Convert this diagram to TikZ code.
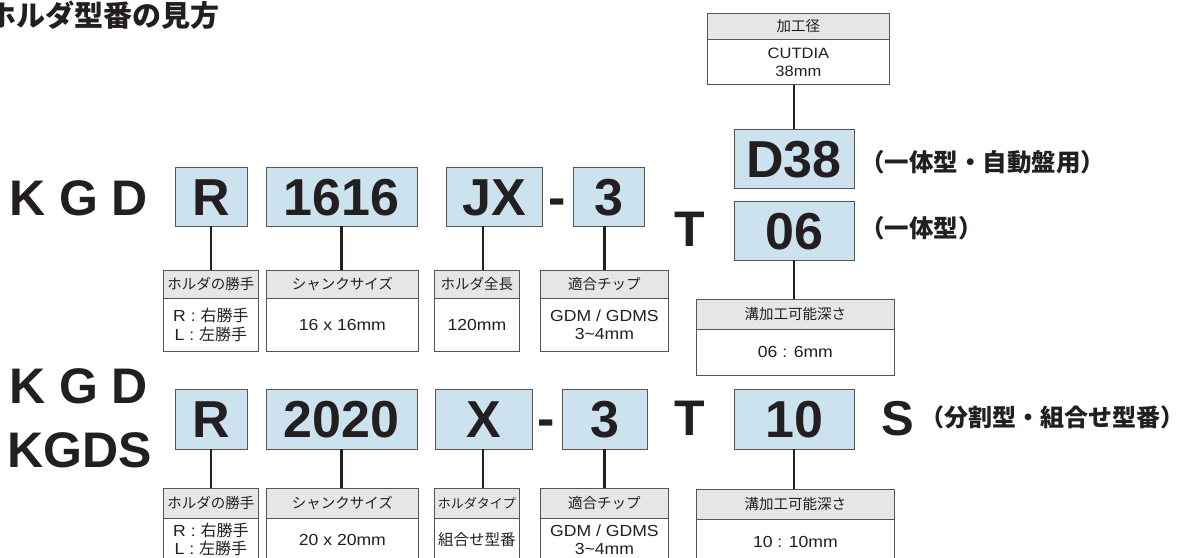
\documentclass[tikz,border=0pt]{standalone}
\usepackage{fontspec}
\setmainfont{Liberation Sans}
\newfontfamily\jp{Noto Sans CJK JP}
\newfontfamily\lat{Liberation Sans}[FakeStretch=1.1]
\definecolor{codeblue}{RGB}{204,227,239}
\definecolor{hdrgray}{RGB}{230,230,231}
\definecolor{ink}{RGB}{35,31,32}
\definecolor{edge}{RGB}{85,85,85}
\tikzset{
 codebox/.style={draw=edge, fill=codeblue, line width=0.9pt, inner sep=0pt, text height=37pt, text depth=0pt, font=\fontsize{52}{52}\selectfont\bfseries, text=ink},
 big/.style={inner sep=0pt, font=\fontsize{52}{52}\selectfont\bfseries, text=ink, anchor=base},
 hdr/.style={draw=edge, fill=hdrgray, line width=0.8pt, inner sep=0pt, anchor=north west, font=\jp\fontsize{14.5}{16}\selectfont, text=ink},
 bdy/.style={draw=edge, fill=white, line width=0.8pt, inner sep=0pt, anchor=north west, align=center, text=ink},
 conn/.style={line width=2.4pt, draw=ink},
 note/.style={inner sep=0pt, anchor=west, font=\jp\bfseries\fontsize{24.5}{26}\selectfont, text=ink},
}
\newcommand\cbox[6]{\node[codebox, minimum width={(#3-#2)*1pt}, minimum height={(#5-#4)*1pt}] (#1) at ({(#2+#3)/2},{(#4+#5)/2}) {#6};}
\newcommand\ibox[9]{%
 \node[hdr, minimum width={(#3-#2)*1pt}, minimum height={(#5-#4)*1pt}] (#1h) at (#2,#4) {#8};
 \node[bdy, minimum width={(#3-#2)*1pt}, minimum height={(#6-#5)*1pt}, font={#7}] (#1b) at (#2,#5) {#9};}
\begin{document}
\begin{tikzpicture}[x=1pt,y=-1pt]
\useasboundingbox (0,0) rectangle (1182,557);
\clip (0,0) rectangle (1182,557);
\fill[white] (0,0) rectangle (1182,557);

\node[anchor=west, inner sep=0pt, text=ink, font=\jp\bfseries\fontsize{29}{31}\selectfont] (title) at (-13,15) {ホルダ型番の見方};

% top box
\ibox{tb}{707}{889}{13}{39}{84}{\lat\fontsize{15}{18}\selectfont}{加工径}{CUTDIA\\38mm}

% row 1 codes
\node[big, anchor=base west, font=\fontsize{50}{50}\selectfont\bfseries] (k1) at (9,215) {K G D};
\cbox{r1}{175}{247}{167}{226}{R}
\cbox{s1}{266}{417}{167}{226}{1616}
\cbox{l1}{446}{542}{167}{226}{JX}
\node[big] (hy1) at (557.5,215) {-};
\cbox{c1}{573}{644}{167}{226}{3}
\node[big, font=\fontsize{50}{50}\selectfont\bfseries] (t1) at (689.5,246) {T};
\cbox{d1}{734}{854}{129}{188}{D38}
\cbox{g1}{734}{854}{201}{260}{06}
\node[note] (n1) at (860,162) {（一体型・自動盤用）};
\node[note] (n2) at (860,228) {（一体型）};

% row 1 info
\ibox{ia}{163}{258}{270}{298}{351}{\lat\fontsize{16}{18.5}\selectfont}{ホルダの勝手}{R : {\jp 右勝手}\\L : {\jp 左勝手}}
\ibox{ib}{266}{418}{270}{298}{351}{\lat\fontsize{16}{18.5}\selectfont}{シャンクサイズ}{16 x 16mm}
\ibox{ic}{434}{519}{270}{298}{351}{\lat\fontsize{16}{18.5}\selectfont}{ホルダ全長}{120mm}
\ibox{id}{540}{668}{270}{298}{351}{\lat\fontsize{16}{18.5}\selectfont}{適合チップ}{GDM / GDMS\\3\textasciitilde4mm}
\ibox{ie}{696}{894}{299}{329}{375}{\lat\fontsize{16}{18.5}\selectfont}{溝加工可能深さ}{06 : 6mm}

\coordinate (x3) at (483,0);
\draw[conn] (tbb.south -| d1.north) -- (d1.north);
\draw[conn] (r1.south) -- (r1.south |- iah.north);
\draw[conn] (s1.south) -- (s1.south |- ibh.north);
\draw[conn] (l1.south -| x3) -- (ich.north -| x3);
\draw[conn] (c1.south -| idh.north) -- (idh.north);
\draw[conn] (g1.south) -- (g1.south |- ieh.north);

% row 2 codes
\node[big, anchor=base west, font=\fontsize{50}{50}\selectfont\bfseries] (k2) at (9,403) {K G D};
\node[big, anchor=base west, font=\fontsize{50}{50}\selectfont\bfseries] (k3) at (7,467) {KGDS};
\cbox{r2}{175}{247}{389}{449}{R}
\cbox{s2}{266}{417}{389}{449}{2020}
\cbox{l2}{435}{532}{389}{449}{X}
\node[big] (hy2) at (546.5,436) {-};
\cbox{c2}{562}{647}{389}{449}{3}
\node[big, font=\fontsize{50}{50}\selectfont\bfseries] (t2) at (689.5,435) {T};
\cbox{g2}{734}{854}{389}{449}{10}
\node[big, font=\fontsize{49}{49}\selectfont\bfseries] (sfx) at (898,435) {S};
\node[note, font=\jp\bfseries\fontsize{24}{26}\selectfont] (n3) at (920,417) {（分割型・組合せ型番）};

% row 2 info
\ibox{ja}{163}{258}{488}{518}{561}{\lat\fontsize{16}{18}\selectfont}{ホルダの勝手}{R : {\jp 右勝手}\\L : {\jp 左勝手}}
\ibox{jb}{266}{418}{488}{518}{561}{\lat\fontsize{16}{18}\selectfont}{シャンクサイズ}{20 x 20mm}
\ibox{jc}{434}{519}{488}{518}{561}{\jp\fontsize{15.5}{18}\selectfont}{{\fontsize{13}{15}\selectfont ホルダタイプ}}{組合せ型番}
\ibox{jd}{540}{668}{488}{518}{561}{\lat\fontsize{16}{18}\selectfont}{適合チップ}{GDM / GDMS\\3\textasciitilde4mm}
\ibox{je}{696}{894}{489}{519}{564}{\lat\fontsize{16}{18}\selectfont}{溝加工可能深さ}{10 : 10mm}

\draw[conn] (r2.south) -- (r2.south |- jah.north);
\draw[conn] (s2.south) -- (s2.south |- jbh.north);
\draw[conn] (l2.south -| x3) -- (jch.north -| x3);
\draw[conn] (c2.south -| jdh.north) -- (jdh.north);
\draw[conn] (g2.south) -- (g2.south |- jeh.north);
\end{tikzpicture}
\end{document}
